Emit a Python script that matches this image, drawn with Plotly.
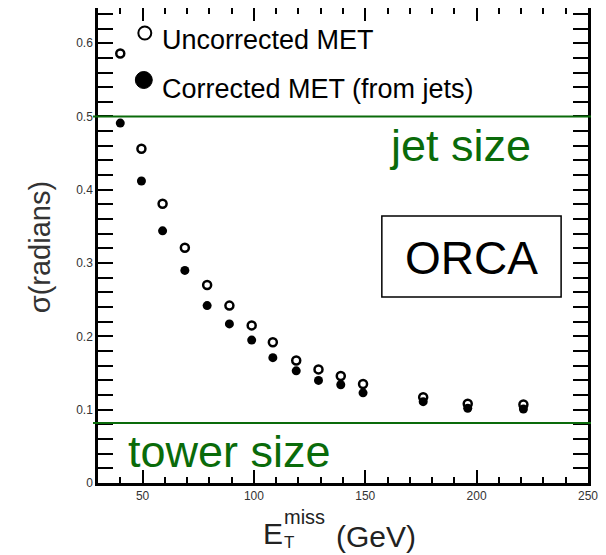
import plotly.graph_objects as go

# ---------------- data ----------------
met_unc = [40, 49.5, 59, 69, 79, 89, 99, 108.5, 119, 129, 139, 149, 176, 196, 221]
sigma_unc = [0.586, 0.456, 0.381, 0.321, 0.270, 0.242, 0.215, 0.192, 0.167, 0.155,
             0.146, 0.135, 0.117, 0.108, 0.107]
met_cor = [40, 49.5, 59, 69, 79, 89, 99, 108.5, 119, 129, 139, 149, 176, 196, 221]
sigma_cor = [0.491, 0.412, 0.344, 0.290, 0.242, 0.217, 0.195, 0.171, 0.153, 0.140,
             0.134, 0.123, 0.111, 0.102, 0.101]
jet_size = 0.5
tower_size = 0.082
legend_labels = ["Uncorrected MET", "Corrected MET (from jets)"]

W, H = 606, 555
L, R, T, B = 98, 16, 8, 72
PW, PH = W - L - R, H - T - B
FONT = "Arial, Liberation Sans, sans-serif"
GREEN = "#0a6b0a"


def px_x(px):
    return (px - L) / PW


def px_y(py):
    return (H - B - py) / PH


fig = go.Figure()
fig.add_trace(go.Scatter(x=met_unc, y=sigma_unc, mode="markers",
                         marker=dict(symbol="circle-open", size=8, color="black",
                                     line=dict(width=2.5, color="black")),
                         showlegend=False, hoverinfo="skip"))
fig.add_trace(go.Scatter(x=met_cor, y=sigma_cor, mode="markers",
                         marker=dict(symbol="circle", size=9, color="black"),
                         showlegend=False, hoverinfo="skip"))
# invisible trace for top axis
fig.add_trace(go.Scatter(x=[30, 250], y=[0, 0], xaxis="x2", mode="markers",
                         marker=dict(opacity=0), showlegend=False, hoverinfo="skip"))

shapes = []
for yv in (jet_size, tower_size):
    shapes.append(dict(type="line", xref="paper", yref="y", x0=px_x(93), x1=px_x(593),
                       y0=yv, y1=yv, line=dict(color=GREEN, width=2)))
# legend symbols
shapes.append(dict(type="circle", xref="paper", yref="paper",
                   x0=px_x(138.5), x1=px_x(151.5), y0=px_y(39.5), y1=px_y(26.5),
                   line=dict(color="black", width=2), fillcolor="white"))
shapes.append(dict(type="circle", xref="paper", yref="paper",
                   x0=px_x(135.5), x1=px_x(152.5), y0=px_y(88.5), y1=px_y(71.5),
                   line=dict(color="black", width=1), fillcolor="black"))
# ORCA box
shapes.append(dict(type="rect", xref="paper", yref="paper",
                   x0=px_x(383), x1=px_x(563), y0=px_y(297), y1=px_y(216),
                   line=dict(color="black", width=1.5), fillcolor="white"))

ann = []


def text(s, px, py, size, color="black", xanchor="left", angle=0):
    ann.append(dict(text=s, xref="paper", yref="paper", x=px_x(px), y=px_y(py),
                    xanchor=xanchor, yanchor="middle", showarrow=False, textangle=angle,
                    font=dict(family=FONT, size=size, color=color)))


text(legend_labels[0], 160, 40, 27)
text(legend_labels[1], 160, 89, 27)
text("jet size", 388, 146, 45, GREEN)
text("tower size", 126, 451, 45, GREEN)
text("ORCA", 473, 258, 46, xanchor="center")
# axis titles
text("E", 262, 533, 30, "#222")
text("miss", 283, 517, 20, "#222")
text("T", 283, 542, 17, "#222")
text("(GeV)", 335, 536, 30, "#222")
text("σ(radians)", 40, 247, 29, "#333", xanchor="center", angle=-90)

tickfont = dict(family=FONT, size=12, color="#333")

fig.update_layout(
    width=W, height=H,
    margin=dict(l=L, r=R, t=T, b=B),
    paper_bgcolor="white", plot_bgcolor="white",
    shapes=shapes, annotations=ann,
    xaxis=dict(range=[30, 250], showgrid=False, zeroline=False,
               showline=True, linecolor="black", linewidth=2.5,
               ticks="inside", ticklen=13, tickwidth=2, tickcolor="black",
               tick0=0, dtick=50, tickfont=tickfont,
               minor=dict(dtick=10, ticks="inside", ticklen=6, tickwidth=2,
                          tickcolor="black", showgrid=False)),
    xaxis2=dict(range=[30, 250], overlaying="x", side="top", anchor="y",
                showgrid=False, zeroline=False, showline=False,
                ticks="inside", ticklen=13, tickwidth=2, tickcolor="black",
                tick0=0, dtick=50, showticklabels=False,
                minor=dict(dtick=10, ticks="inside", ticklen=6, tickwidth=2,
                           tickcolor="black", showgrid=False)),
    yaxis=dict(range=[0, 0.648], showgrid=False, zeroline=False,
               showline=True, linecolor="black", linewidth=2.5, mirror="allticks",
               ticks="inside", ticklen=15, tickwidth=2, tickcolor="black",
               tick0=0, dtick=0.1, tickfont=tickfont,
               minor=dict(dtick=0.02, ticks="inside", ticklen=9, tickwidth=2,
                          tickcolor="black", showgrid=False)),
)

fig.write_html("out.html", config={"displayModeBar": False})
